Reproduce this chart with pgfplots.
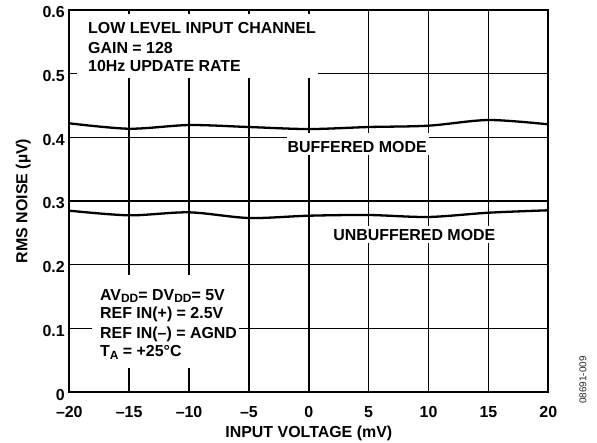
\documentclass[border=0pt]{standalone}
\usepackage{pgfplots}
\pgfplotsset{compat=1.18}
\usepackage{fontspec}
\setmainfont{Liberation Sans}[BoldFont={Liberation Sans Bold}]
\newfontfamily\boldarial{Liberation Sans Bold}
\newcommand{\sub}[1]{\raisebox{-0.35ex}{\fontsize{12}{12}\selectfont #1}}
\begin{document}
\begin{tikzpicture}[font=\boldarial\fontsize{16}{19}\selectfont]
\begin{axis}[
  at={(0,0)}, anchor=south west,
  scale only axis, width=479bp, height=382bp,
  xmin=-20, xmax=20, ymin=0, ymax=0.6,
  xtick={-20,-15,-10,-5,0,5,10,15,20},
  xticklabels={–20,–15,–10,–5,0,5,10,15,20},
  ytick={0,0.1,0.2,0.3,0.4,0.5,0.6},
  yticklabels={0,0.1,0.2,0.3,0.4,0.5,0.6},
  grid=major,
  major grid style={black, line width=1.4bp},
  axis line style={black, line width=2bp},
  major tick length=0pt,
  tick label style={font=\boldarial\fontsize{16}{18}\selectfont},
  xticklabel style={anchor=base, yshift=-25bp},
  yticklabel style={anchor=base east, yshift=-8bp, xshift=-1bp},
  xlabel={INPUT VOLTAGE (mV)},
  ylabel={RMS NOISE (µV)},
  label style={font=\boldarial\fontsize{16}{18}\selectfont},
  xlabel style={at={(axis description cs:0.5,-0.1178)}, anchor=base},
  ylabel style={at={(axis description cs:-0.0877,0.5)}, anchor=base},
]
% white knock-out boxes
\fill[white] (axis cs:-19.36,0.493) rectangle (axis cs:0.81,0.594);
\fill[white] (axis cs:-18.11,0.0377) rectangle (axis cs:-5.8,0.1838);
\fill[white] (axis cs:-1.78,0.372) rectangle (axis cs:10.06,0.4068);
\fill[white] (axis cs:1.97,0.234) rectangle (axis cs:15.64,0.2607);

% buffered mode
\addplot[black, line width=2.3bp, smooth] coordinates {
(-20,0.422) (-15,0.4135) (-10,0.4193) (-5,0.4162) (0,0.413)
(5,0.4162) (10,0.4183) (15,0.4272) (20,0.4204)};
% unbuffered mode
\addplot[black, line width=2.3bp, smooth] coordinates {
(-20,0.2848) (-15,0.2775) (-10,0.2822) (-5,0.2733) (0,0.2769)
(5,0.278) (10,0.2749) (15,0.2816) (20,0.2854)};

\node[anchor=base west, inner sep=0pt] at (axis cs:-18.44,0.5634) {LOW LEVEL INPUT CHANNEL};
\node[anchor=base west, inner sep=0pt] at (axis cs:-18.44,0.532) {GAIN = 128};
\node[anchor=base west, inner sep=0pt] at (axis cs:-18.44,0.503) {10Hz UPDATE RATE};

\node[anchor=base, inner sep=0pt] at (axis cs:4.04,0.3765) {BUFFERED MODE};
\node[anchor=base, inner sep=0pt] at (axis cs:8.81,0.2387) {UNBUFFERED MODE};

\node[anchor=base west, inner sep=0pt] at (axis cs:-17.44,0.1445) {AV\sub{DD}= DV\sub{DD}= 5V};
\node[anchor=base west, inner sep=0pt] at (axis cs:-17.44,0.1147) {REF IN(+) = 2.5V};
\node[anchor=base west, inner sep=0pt] at (axis cs:-17.44,0.0848) {REF IN(–) = AGND};
\node[anchor=base west, inner sep=0pt] at (axis cs:-17.44,0.055) {T\sub{A} = +25°C};
\end{axis}
\node[rotate=90, inner sep=0pt, text=black!85, font=\rmfamily\fontsize{10}{11}\selectfont] at (513.7bp,12bp) {08691-009};
\pgfresetboundingbox
\useasboundingbox (-69.3bp,-51bp) rectangle (527.7bp,392bp);
\end{tikzpicture}
\end{document}
